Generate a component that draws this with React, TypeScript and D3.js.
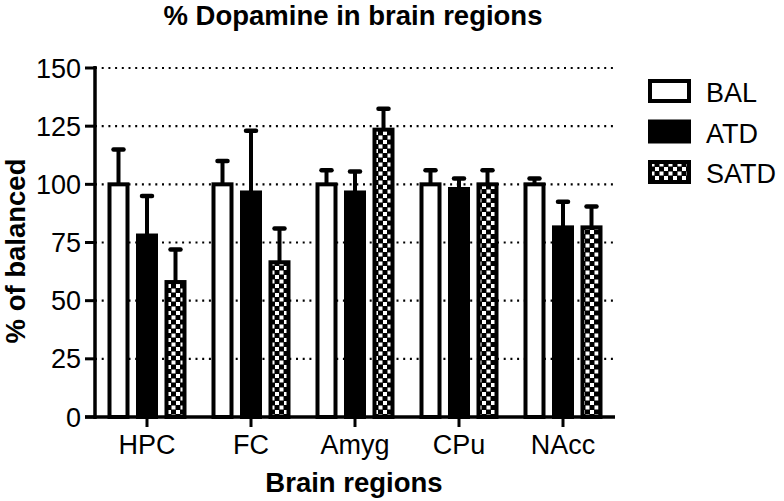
import React from 'react'
import * as d3 from 'd3'

// brain regions on the x axis
const regions = ['HPC', 'FC', 'Amyg', 'CPu', 'NAcc']
const groups = ['BAL', 'ATD', 'SATD']

// % of balanced, means and upper error (SEM) per group
const balMean = [100, 100, 100, 100, 100]
const balErr = [15, 10, 6, 6, 2.5]
const atdMean = [78, 96.5, 96.5, 98, 81.5]
const atdErr = [17, 26.5, 9, 4.5, 11]
const satdMean = [58, 66.5, 123.5, 100, 81.5]
const satdErr = [14, 14.5, 9, 6, 9]

const yTicks = [0, 25, 50, 75, 100, 125, 150]

const FONT = 'Liberation Sans, Arial, Helvetica, sans-serif'

export default function App() {
  const width = 784
  const height = 501
  const left = 95
  const right = 615
  const top = 68
  const bottom = 417

  const x = d3.scaleBand().domain(regions).range([left, right])
  const inner = d3.scaleBand().domain(groups).range([-42.75, 42.75]).paddingInner(0.228).paddingOuter(0.114)
  const y = d3.scaleLinear().domain([0, 150]).range([bottom, top])

  const series = [
    { name: 'BAL', mean: balMean, err: balErr, fill: '#fff' },
    { name: 'ATD', mean: atdMean, err: atdErr, fill: '#000' },
    { name: 'SATD', mean: satdMean, err: satdErr, fill: 'url(#checker)' },
  ]

  const bw = inner.bandwidth() - 4

  return (
    <svg width={width} height={height} style={{ position: 'absolute', left: 0, top: 0 }} fontFamily={FONT}>
      <defs>
        <pattern id="checker" width={9} height={9} patternUnits="userSpaceOnUse">
          <rect width={9} height={9} fill="#000" />
          <rect x={0.5} y={0.5} width={4} height={4} fill="#fff" />
          <rect x={5} y={5} width={4} height={4} fill="#fff" />
        </pattern>
      </defs>
      <rect width={width} height={height} fill="#fff" />

      <text x={353} y={25} textAnchor="middle" fontSize={27.5} fontWeight="bold">% Dopamine in brain regions</text>

      {/* dotted grid */}
      {yTicks.filter(t => t > 0).map(t => (
        <line key={t} x1={left} x2={right} y1={y(t)} y2={y(t)} stroke="#000" strokeWidth={2.2} strokeDasharray="2 4.7" />
      ))}

      {/* bars */}
      {series.map(s => regions.map((r, i) => {
        const cx = x(r)! + x.bandwidth() / 2 + inner(s.name)! + inner.bandwidth() / 2
        const yt = y(s.mean[i])
        const ye = y(s.mean[i] + s.err[i])
        return (
          <g key={s.name + r}>
            <line x1={cx} x2={cx} y1={yt} y2={ye} stroke="#000" strokeWidth={4} />
            <line x1={cx - 5} x2={cx + 5} y1={ye} y2={ye} stroke="#000" strokeWidth={4.5} strokeLinecap="round" />
            <rect x={cx - bw / 2} y={yt} width={bw} height={bottom - yt} fill={s.fill} stroke="#000" strokeWidth={4} />
          </g>
        )
      }))}

      {/* y axis */}
      <line x1={left} x2={left} y1={top - 2} y2={bottom + 2} stroke="#000" strokeWidth={3.5} />
      {yTicks.map(t => (
        <g key={t}>
          <line x1={left - 10} x2={left} y1={y(t)} y2={y(t)} stroke="#000" strokeWidth={3} />
          <text x={81} y={y(t) + 9.5} textAnchor="end" fontSize={27}>{t}</text>
        </g>
      ))}

      {/* x axis */}
      <line x1={left - 10} x2={right} y1={bottom} y2={bottom} stroke="#000" strokeWidth={3.5} />
      {regions.map(r => {
        const cx = x(r)! + x.bandwidth() / 2
        return (
          <g key={r}>
            <line x1={cx} x2={cx} y1={bottom} y2={bottom + 10} stroke="#000" strokeWidth={3} />
            <text x={cx} y={454} textAnchor="middle" fontSize={27}>{r}</text>
          </g>
        )
      })}

      <text x={354} y={492} textAnchor="middle" fontSize={27.5} fontWeight="bold">Brain regions</text>
      <text transform="translate(25,251) rotate(-90)" textAnchor="middle" fontSize={27.5} fontWeight="bold">% of balanced</text>

      {/* legend */}
      {series.map((s, i) => (
        <g key={s.name} transform={`translate(650,${81 + i * 40.5})`}>
          <rect width={39} height={20} fill={s.fill} stroke="#000" strokeWidth={4} />
          <text x={56} y={21} fontSize={27}>{s.name}</text>
        </g>
      ))}
    </svg>
  )
}
